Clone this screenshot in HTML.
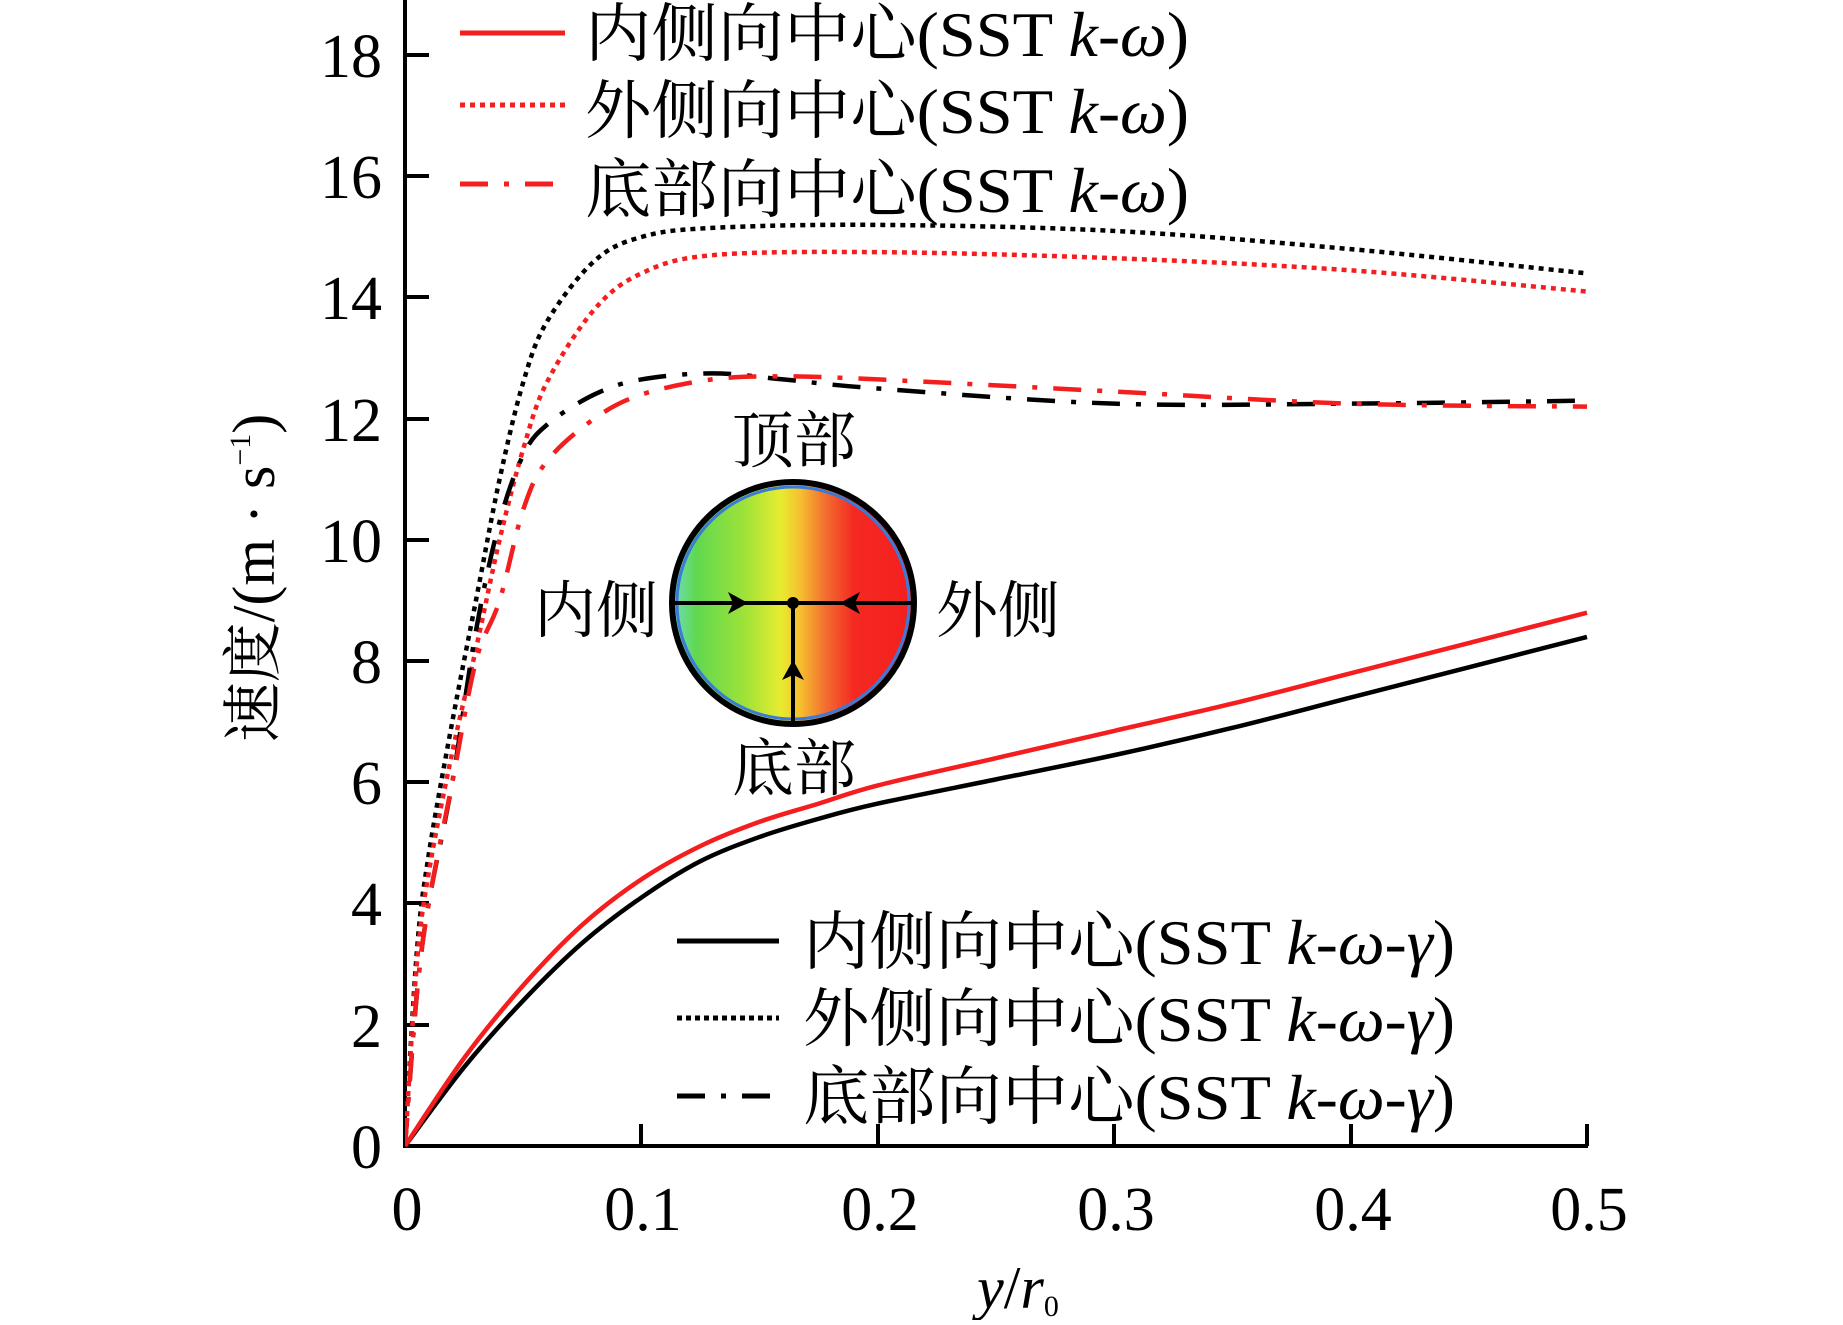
<!DOCTYPE html>
<html><head><meta charset="utf-8"><style>
body{margin:0;background:#fff}
svg text{font-family:"Liberation Serif","Noto Serif CJK SC",serif;fill:#000}
</style></head><body>
<svg id="s" width="1843" height="1320" viewBox="0 0 1843 1320" xmlns="http://www.w3.org/2000/svg">
<defs>
<linearGradient id="g" x1="0" x2="1" y1="0" y2="0">
<stop offset="0" stop-color="#70dcc0"/><stop offset="0.1" stop-color="#60d850"/>
<stop offset="0.3" stop-color="#9ee238"/><stop offset="0.45" stop-color="#e8ec30"/>
<stop offset="0.53" stop-color="#f5c030"/><stop offset="0.63" stop-color="#f37030"/>
<stop offset="0.75" stop-color="#f42a22"/><stop offset="1" stop-color="#f41e1e"/>
</linearGradient>
<clipPath id="cp"><rect x="405" y="0" width="1200" height="1147"/></clipPath>
</defs>
<g stroke="#000" stroke-width="4" fill="none">
<line x1="405" y1="0" x2="405" y2="1148"/>
<line x1="403" y1="1146" x2="1588" y2="1146"/>
<line x1="405" y1="55" x2="429" y2="55"/><line x1="405" y1="176" x2="429" y2="176"/>
<line x1="405" y1="297" x2="429" y2="297"/><line x1="405" y1="419" x2="429" y2="419"/>
<line x1="405" y1="540" x2="429" y2="540"/><line x1="405" y1="661" x2="429" y2="661"/>
<line x1="405" y1="782" x2="429" y2="782"/><line x1="405" y1="903" x2="429" y2="903"/>
<line x1="405" y1="1025" x2="429" y2="1025"/>
<line x1="641" y1="1146" x2="641" y2="1124"/><line x1="878" y1="1146" x2="878" y2="1124"/>
<line x1="1114" y1="1146" x2="1114" y2="1124"/><line x1="1351" y1="1146" x2="1351" y2="1124"/>
<line x1="1587" y1="1146" x2="1587" y2="1124"/>
</g>
<g font-size="62" text-anchor="end">
<text x="382" y="77">18</text><text x="382" y="198">16</text><text x="382" y="319">14</text>
<text x="382" y="441">12</text><text x="382" y="562">10</text><text x="382" y="683">8</text>
<text x="382" y="804">6</text><text x="382" y="925">4</text><text x="382" y="1047">2</text>
<text x="382" y="1168">0</text>
</g>
<g font-size="62" text-anchor="middle">
<text x="407" y="1230">0</text><text x="643" y="1230">0.1</text><text x="880" y="1230">0.2</text>
<text x="1116" y="1230">0.3</text><text x="1353" y="1230">0.4</text><text x="1589" y="1230">0.5</text>
</g>
<text x="1018" y="1308" font-size="60" text-anchor="middle"><tspan font-style="italic">y</tspan>/<tspan font-style="italic">r</tspan><tspan font-size="30" dy="8">0</tspan></text>
<text transform="translate(274,578) rotate(-90)" font-size="60" text-anchor="middle">速度/(m · s<tspan font-size="30" dy="-24">−1</tspan><tspan dy="24">)</tspan></text>
<g id="curves" clip-path="url(#cp)" fill="none" stroke-width="4.5"></g>
<circle cx="793" cy="603" r="121" fill="url(#g)" stroke="#000" stroke-width="6"/>
<circle cx="793" cy="603" r="116" fill="none" stroke="#3a7ad8" stroke-width="3"/>
<g stroke="#000" stroke-width="4">
<line x1="672" y1="603" x2="915" y2="603"/><line x1="793" y1="603" x2="793" y2="724"/>
</g>
<circle cx="793" cy="603" r="6" fill="#000"/>
<polygon points="748,603 728,592 733,603 728,614" fill="#000"/>
<polygon points="840,603 860,592 855,603 860,614" fill="#000"/>
<polygon points="793,660 782,680 793,675 804,680" fill="#000"/>
<g font-size="62" text-anchor="middle">
<text x="794" y="462">顶部</text><text x="794" y="790">底部</text>
<text x="596" y="632">内侧</text><text x="998" y="632">外侧</text>
</g>
<g stroke-width="5" fill="none">
<line x1="460" y1="33" x2="565" y2="33" stroke="#f41e1e"/>
<line x1="460" y1="105" x2="565" y2="105" stroke="#f41e1e" stroke-dasharray="5 5"/>
<line x1="460" y1="184" x2="565" y2="184" stroke="#f41e1e" stroke-dasharray="28 16 5 16"/>
<line x1="677" y1="941" x2="779" y2="941" stroke="#000"/>
<line x1="677" y1="1018" x2="779" y2="1018" stroke="#000" stroke-dasharray="5 4"/>
<line x1="677" y1="1096" x2="779" y2="1096" stroke="#000" stroke-dasharray="28 16 5 16"/>
</g>
<g font-size="64">
<text x="585" y="56" textLength="604" lengthAdjust="spacingAndGlyphs">内侧向中心(SST <tspan font-style="italic">k</tspan>-<tspan font-style="italic">ω</tspan>)</text>
<text x="585" y="133" textLength="604" lengthAdjust="spacingAndGlyphs">外侧向中心(SST <tspan font-style="italic">k</tspan>-<tspan font-style="italic">ω</tspan>)</text>
<text x="585" y="212" textLength="604" lengthAdjust="spacingAndGlyphs">底部向中心(SST <tspan font-style="italic">k</tspan>-<tspan font-style="italic">ω</tspan>)</text>
<text x="803" y="964" textLength="652" lengthAdjust="spacingAndGlyphs">内侧向中心(SST <tspan font-style="italic">k</tspan>-<tspan font-style="italic">ω</tspan>-<tspan font-style="italic">γ</tspan>)</text>
<text x="803" y="1041" textLength="652" lengthAdjust="spacingAndGlyphs">外侧向中心(SST <tspan font-style="italic">k</tspan>-<tspan font-style="italic">ω</tspan>-<tspan font-style="italic">γ</tspan>)</text>
<text x="803" y="1119" textLength="652" lengthAdjust="spacingAndGlyphs">底部向中心(SST <tspan font-style="italic">k</tspan>-<tspan font-style="italic">ω</tspan>-<tspan font-style="italic">γ</tspan>)</text>
</g>
</svg>
<script>
var X=function(x){return 405+x*2364},Y=function(v){return 1146-v*60.6};
var S=[
{c:"#000",d:"5 5",p:[[0,0],[0.005,3.2],[0.01,4.8],[0.02,7],[0.03,9],[0.04,11],[0.05,12.6],[0.06,13.6],[0.08,14.6],[0.1,15],[0.13,15.15],[0.2,15.2],[0.3,15.1],[0.4,14.8],[0.5,14.4]]},
{c:"#f41e1e",d:"5 5",p:[[0,0],[0.005,3],[0.01,4.5],[0.02,6.5],[0.03,8.2],[0.04,10],[0.05,11.5],[0.06,12.6],[0.08,13.8],[0.1,14.4],[0.13,14.7],[0.2,14.75],[0.3,14.65],[0.4,14.45],[0.5,14.1]]},
{c:"#000",d:"28 16 5 16",p:[[0,0],[0.005,2.5],[0.01,4],[0.02,6],[0.03,8.5],[0.04,10.3],[0.05,11.4],[0.06,11.9],[0.08,12.4],[0.1,12.65],[0.13,12.75],[0.16,12.65],[0.2,12.5],[0.3,12.25],[0.4,12.25],[0.5,12.3]]},
{c:"#f41e1e",d:"28 16 5 16",p:[[0,0],[0.005,2.5],[0.01,4],[0.02,6],[0.03,8],[0.04,9],[0.05,10.5],[0.06,11.3],[0.08,12],[0.1,12.4],[0.13,12.65],[0.16,12.7],[0.2,12.65],[0.3,12.45],[0.4,12.25],[0.5,12.2]]},
{c:"#000",d:"",p:[[0,0],[0.025,1.3],[0.05,2.4],[0.075,3.35],[0.1,4.1],[0.125,4.7],[0.15,5.1],[0.175,5.4],[0.2,5.65],[0.25,6.05],[0.3,6.45],[0.35,6.9],[0.4,7.4],[0.45,7.9],[0.5,8.4]]},
{c:"#f41e1e",d:"",p:[[0,0],[0.025,1.45],[0.05,2.65],[0.075,3.65],[0.1,4.4],[0.125,4.95],[0.15,5.35],[0.175,5.65],[0.2,5.95],[0.25,6.4],[0.3,6.85],[0.35,7.3],[0.4,7.8],[0.45,8.3],[0.5,8.8]]}
];
var g=document.getElementById("curves"),ns="http://www.w3.org/2000/svg";
S.forEach(function(s){var P=s.p.map(function(q){return[X(q[0]),Y(q[1])]});
var d="M"+P[0][0]+","+P[0][1];
for(var i=0;i<P.length-1;i++){var p0=P[i-1]||P[i],p1=P[i],p2=P[i+1],p3=P[i+2]||p2;
d+=" C"+(p1[0]+(p2[0]-p0[0])/6)+","+(p1[1]+(p2[1]-p0[1])/6)+" "+(p2[0]-(p3[0]-p1[0])/6)+","+(p2[1]-(p3[1]-p1[1])/6)+" "+p2[0]+","+p2[1];}
var e=document.createElementNS(ns,"path");e.setAttribute("d",d);e.setAttribute("stroke",s.c);
if(s.d)e.setAttribute("stroke-dasharray",s.d);g.appendChild(e);});
</script>
</body></html>
